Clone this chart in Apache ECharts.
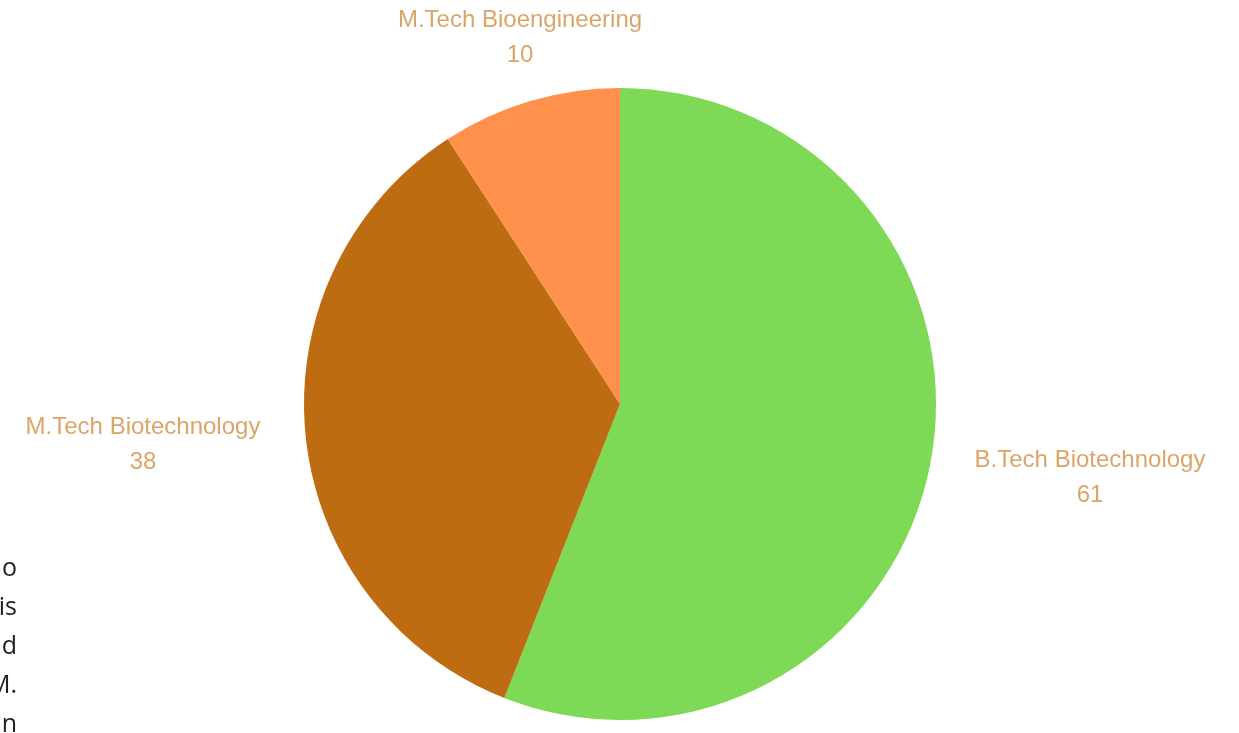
<!DOCTYPE html>
<html>
<head>
<meta charset="utf-8">
<title>Programme split</title>
<script src="https://cdn.jsdelivr.net/npm/echarts@6/dist/echarts.min.js"></script>
<style>
  html, body { margin: 0; padding: 0; background: #fff; }
  #main { width: 1239px; height: 733px; }
</style>
</head>
<body>
<div id="main"></div>
<script>
var programmes = ['B.Tech Biotechnology', 'M.Tech Biotechnology', 'M.Tech Bioengineering'];
var students = [61, 38, 10];
var sliceColors = ['#7ED957', '#BD6C12', '#FF914D'];

// where each label sits (centre of text block)
var labelSpots = [[1090, 478], [143, 445], [520, 38]];

// clipped body text from the page behind the chart
var sideWords = ['o', 'is', 'd', 'M.', 'n'];

var myChart = echarts.init(document.getElementById('main'));

var option = {
  backgroundColor: '#fff',
  animation: false,
  graphic: sideWords.map(function (w, i) {
    return {
      type: 'text',
      right: 1239 - 17,
      top: 556 + i * 39,
      style: {
        text: w,
        fill: '#1f1f1f',
        font: '25px "Open Sans", sans-serif',
        align: 'right'
      }
    };
  }),
  series: [{
    type: 'pie',
    center: [620, 404],
    radius: 316,
    startAngle: 90,
    clockwise: true,
    label: {
      show: true,
      formatter: '{b}\n{c}',
      color: '#DBA468',
      fontSize: 24,
      lineHeight: 35,
      align: 'center',
      fontFamily: 'Liberation Sans, sans-serif'
    },
    labelLine: { show: false },
    labelLayout: function (p) {
      var s = labelSpots[p.dataIndex];
      return { x: s[0], y: s[1], align: 'center', verticalAlign: 'middle' };
    },
    itemStyle: { borderWidth: 0 },
    emphasis: { disabled: true },
    data: programmes.map(function (name, i) {
      return { name: name, value: students[i], itemStyle: { color: sliceColors[i] } };
    })
  }]
};

myChart.setOption(option);
</script>
</body>
</html>
